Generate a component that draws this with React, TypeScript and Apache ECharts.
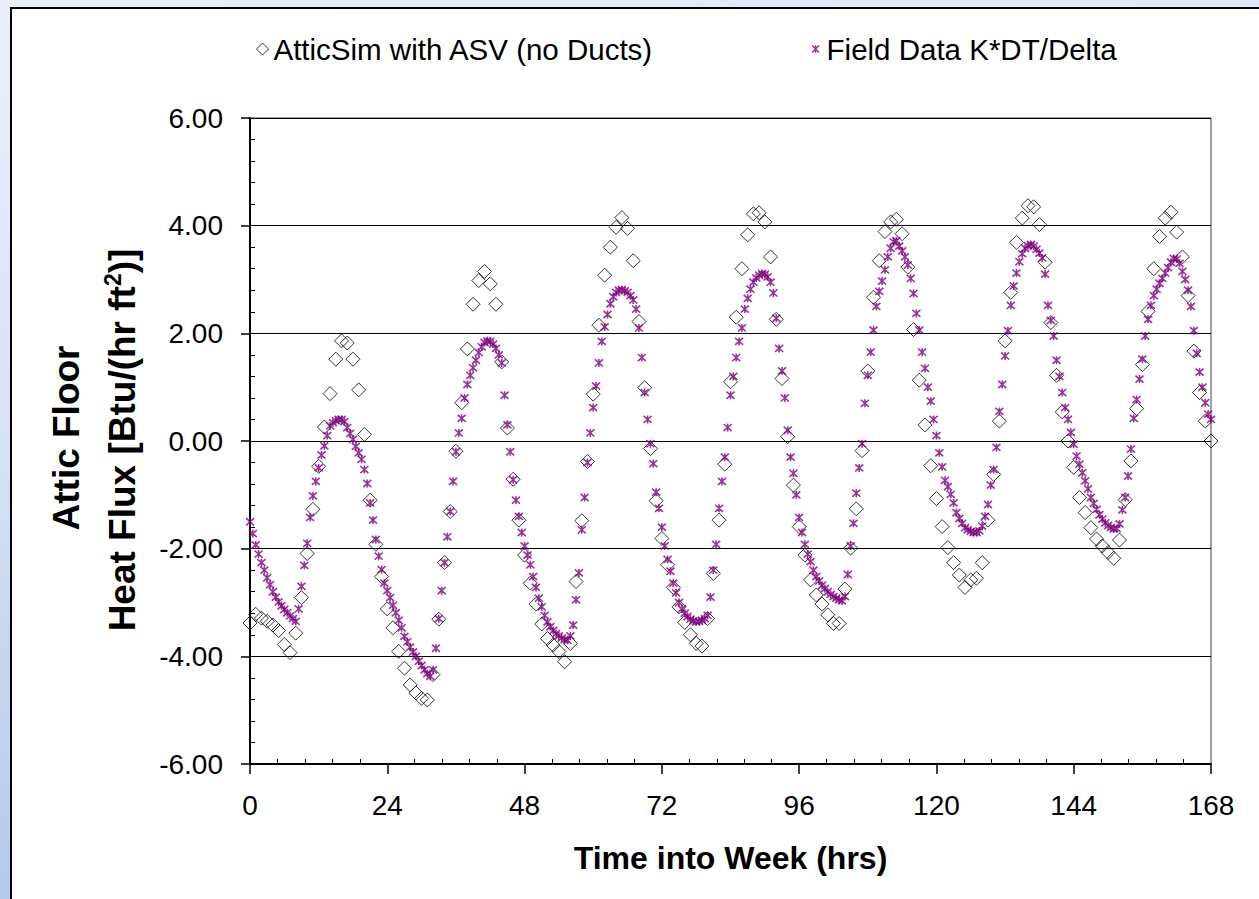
import React, { useEffect, useRef } from 'react';
import * as echarts from 'echarts';

const FONT = '"Liberation Sans", Arial, Helvetica, sans-serif';

// Axis ranges / tick labels
const hourMin = 0;
const hourMax = 168;
const hourInterval = 24;
const fluxMin = -6;
const fluxMax = 6;
const fluxInterval = 2;

// Sampling steps of the two data sets (hours)
const SIM_STEP_HRS = 1;
const FIELD_STEP_HRS = 0.5;

const SIM_NAME = 'AtticSim with ASV (no Ducts)';
const FIELD_NAME = 'Field Data K*DT/Delta';

// AtticSim hourly heat flux, t = 0 .. 168 h
const atticSimFlux = [
  -3.38, -3.22, -3.29, -3.35, -3.42, -3.52, -3.78, -3.93, -3.57, -2.91, -2.09, -1.27,
  -0.47, 0.26, 0.88, 1.52, 1.86, 1.82, 1.52, 0.95, 0.12, -1.10, -1.92, -2.52,
  -3.12, -3.47, -3.91, -4.22, -4.53, -4.68, -4.78, -4.81, -4.34, -3.31, -2.26, -1.31,
  -0.19, 0.71, 1.71, 2.54, 2.98, 3.15, 2.92, 2.54, 1.47, 0.24, -0.71, -1.47,
  -2.12, -2.64, -3.03, -3.40, -3.67, -3.79, -3.91, -4.10, -3.76, -2.61, -1.48, -0.38,
  0.87, 2.15, 3.08, 3.60, 3.97, 4.15, 3.95, 3.35, 2.22, 0.99, -0.14, -1.11,
  -1.81, -2.30, -2.72, -3.08, -3.37, -3.60, -3.76, -3.81, -3.30, -2.46, -1.47, -0.43,
  1.10, 2.30, 3.20, 3.83, 4.22, 4.24, 4.07, 3.42, 2.26, 1.16, 0.08, -0.82,
  -1.59, -2.12, -2.58, -2.86, -3.03, -3.23, -3.39, -3.39, -2.75, -1.99, -1.26, -0.18,
  1.30, 2.67, 3.35, 3.89, 4.07, 4.12, 3.85, 3.23, 2.07, 1.13, 0.30, -0.46,
  -1.07, -1.59, -1.98, -2.26, -2.49, -2.72, -2.58, -2.55, -2.26, -1.47, -0.62, 0.37,
  1.86, 2.76, 3.69, 4.14, 4.37, 4.35, 4.02, 3.32, 2.20, 1.22, 0.54, 0.00,
  -0.49, -1.05, -1.33, -1.61, -1.82, -1.95, -2.07, -2.18, -1.84, -1.09, -0.37, 0.60,
  1.42, 2.41, 3.20, 3.80, 4.14, 4.25, 3.88, 3.42, 2.70, 1.67, 0.90, 0.37,
  0.00,
];

// Field data K*DT/Delta, half-hourly, t = 0 .. 168 h
const fieldFlux = [
  -1.50, -1.72, -1.93, -2.10, -2.26, -2.40, -2.54, -2.67, -2.80, -2.90, -2.99, -3.06,
  -3.13, -3.19, -3.25, -3.30, -3.35, -3.12, -2.70, -2.31, -1.90, -1.42, -1.02, -0.75,
  -0.50, -0.26, -0.09, 0.10, 0.28, 0.34, 0.38, 0.40, 0.40, 0.36, 0.25, 0.14,
  0.03, -0.10, -0.22, -0.34, -0.53, -0.79, -1.15, -1.47, -1.83, -2.14, -2.39, -2.64,
  -2.78, -2.91, -3.05, -3.19, -3.33, -3.47, -3.63, -3.73, -3.83, -3.92, -4.00, -4.09,
  -4.17, -4.25, -4.32, -4.37, -4.25, -3.85, -3.30, -2.78, -2.26, -1.78, -1.31, -0.75,
  -0.20, 0.15, 0.42, 0.80, 1.05, 1.22, 1.36, 1.50, 1.64, 1.75, 1.83, 1.86,
  1.85, 1.80, 1.72, 1.60, 1.45, 0.85, 0.30, -0.20, -0.72, -1.10, -1.40, -1.70,
  -1.95, -2.12, -2.30, -2.52, -2.72, -2.92, -3.08, -3.24, -3.36, -3.45, -3.52, -3.58,
  -3.62, -3.66, -3.69, -3.70, -3.62, -3.42, -2.95, -2.45, -1.65, -1.05, -0.40, 0.15,
  0.62, 1.02, 1.45, 1.85, 2.12, 2.35, 2.55, 2.68, 2.76, 2.80, 2.81, 2.79,
  2.76, 2.70, 2.62, 2.45, 2.10, 1.55, 0.90, 0.40, -0.05, -0.42, -0.95, -1.25,
  -1.60, -1.95, -2.20, -2.42, -2.64, -2.82, -3.00, -3.12, -3.20, -3.26, -3.31, -3.34,
  -3.36, -3.35, -3.33, -3.30, -3.24, -2.90, -2.40, -1.92, -1.25, -0.75, -0.30, 0.25,
  0.85, 1.20, 1.55, 1.85, 2.10, 2.45, 2.65, 2.82, 2.95, 3.03, 3.08, 3.11,
  3.10, 3.05, 2.95, 2.75, 2.28, 1.72, 1.30, 0.80, 0.20, -0.30, -0.60, -1.00,
  -1.42, -1.70, -1.92, -2.10, -2.24, -2.40, -2.52, -2.60, -2.68, -2.74, -2.80, -2.85,
  -2.89, -2.92, -2.95, -2.97, -2.89, -2.48, -1.95, -1.53, -0.97, -0.50, -0.05, 0.70,
  1.22, 1.65, 2.06, 2.50, 2.78, 2.97, 3.18, 3.42, 3.58, 3.70, 3.72, 3.62,
  3.53, 3.42, 3.27, 3.02, 2.74, 2.37, 2.06, 1.65, 1.35, 1.00, 0.74, 0.40,
  0.10, -0.22, -0.48, -0.73, -0.85, -0.99, -1.15, -1.33, -1.44, -1.53, -1.61, -1.65,
  -1.68, -1.70, -1.70, -1.67, -1.58, -1.40, -1.18, -0.82, -0.53, -0.12, 0.55, 1.05,
  1.58, 2.05, 2.52, 2.88, 3.12, 3.33, 3.48, 3.58, 3.63, 3.65, 3.62, 3.56,
  3.49, 3.40, 3.10, 2.52, 2.24, 1.95, 1.50, 1.20, 0.90, 0.62, 0.40, 0.16,
  -0.06, -0.28, -0.43, -0.59, -0.74, -0.89, -1.05, -1.16, -1.27, -1.37, -1.45, -1.52,
  -1.57, -1.61, -1.63, -1.63, -1.54, -1.28, -1.05, -0.65, -0.15, 0.42, 0.77, 1.15,
  1.52, 1.95, 2.26, 2.52, 2.70, 2.82, 2.93, 3.02, 3.12, 3.22, 3.32, 3.39,
  3.38, 3.30, 3.15, 3.00, 2.80, 2.50, 2.05, 1.63, 1.28, 1.00, 0.71, 0.50,
  0.40,
];

const ASTERISK = 'path://M0,0L8,8M8,0L0,8M4,-0.5L4,8.5';
const ASTERISK_ICON = 'path://M-3,-3M11,11M0,0L8,8M8,0L0,8M4,-0.5L4,8.5';

function buildOption() {
  const simData = atticSimFlux.map((v, i) => [i * SIM_STEP_HRS, v]);
  const fieldData = fieldFlux.map((v, i) => [i * FIELD_STEP_HRS, v]);

  const bgGradient = {
    type: 'linear',
    x: 0, y: 0, x2: 0.3, y2: 1,
    colorStops: [
      { offset: 0, color: '#eaf0f9' },
      { offset: 0.5, color: '#d3e0f4' },
      { offset: 1, color: '#adc5ec' },
    ],
  };

  return {
    animation: false,
    backgroundColor: 'transparent',
    textStyle: { fontFamily: FONT },
    graphic: {
      elements: [
        { type: 'rect', z: -11, shape: { x: 0, y: 0, width: 1259, height: 899 }, style: { fill: bgGradient } },
        { type: 'rect', z: -10, shape: { x: 11, y: 8, width: 1300, height: 1000 }, style: { fill: '#ffffff', stroke: '#000000', lineWidth: 2 } },
        {
          type: 'text', z: 10, x: 66, y: 438, rotation: Math.PI / 2,
          style: {
            text: 'Attic Floor', fill: '#000', align: 'center', verticalAlign: 'middle',
            fontSize: 37, fontWeight: 'bold', fontFamily: FONT,
          },
        },
        {
          type: 'text', z: 10, x: 121, y: 440, rotation: Math.PI / 2,
          style: {
            text: '{a|Heat Flux [Btu/(hr ft}{s|2}{a|)]}',
            fill: '#000', align: 'center', verticalAlign: 'middle',
            rich: {
              a: { fontSize: 37, fontWeight: 'bold', fontFamily: FONT, fill: '#000', lineHeight: 40, verticalAlign: 'bottom' },
              s: { fontSize: 23, fontWeight: 'bold', fontFamily: FONT, fill: '#000', lineHeight: 23, verticalAlign: 'top' },
            },
          },
        },
      ],
    },
    legend: {
      left: 251,
      top: 29,
      itemGap: 155,
      itemWidth: 12,
      itemHeight: 12,
      selectedMode: false,
      textStyle: { fontSize: 29.5, color: '#000', fontFamily: FONT },
      itemStyle: { borderWidth: 1 },
      data: [
        { name: SIM_NAME, icon: 'diamond', itemStyle: { color: 'rgba(0,0,0,0)', borderColor: '#000', borderWidth: 1 } },
        { name: FIELD_NAME, icon: ASTERISK_ICON, itemStyle: { color: '#800080', borderColor: '#800080', borderWidth: 1.5 } },
      ],
    },
    grid: {
      left: 250, right: 48, top: 118, bottom: 135,
      show: true, borderColor: '#404040', borderWidth: 1, backgroundColor: 'transparent',
    },
    xAxis: [
      {
        type: 'value', min: hourMin, max: hourMax, interval: hourInterval, position: 'bottom',
        axisLine: { onZero: false, lineStyle: { color: '#000', width: 2 } },
        axisTick: { show: true, length: 10, lineStyle: { color: '#000', width: 1.5 } },
        axisLabel: { fontSize: 28, color: '#000', margin: 27, fontFamily: FONT },
        splitLine: { show: false },
        name: 'Time into Week (hrs)', nameLocation: 'middle', nameGap: 78,
        nameTextStyle: { fontSize: 32, fontWeight: 'bold', color: '#000', fontFamily: FONT },
      },
      {
        type: 'value', min: hourMin, max: hourMax, interval: hourInterval, position: 'bottom',
        axisLine: { show: false, onZero: false },
        axisTick: { show: false, inside: true },
        axisLabel: { show: false },
        splitLine: { show: false },
        minorTick: { show: true, splitNumber: 5, length: 5, lineStyle: { color: '#000', width: 1 } },
      },
    ],
    yAxis: [
      {
        type: 'value', min: fluxMin, max: fluxMax, interval: fluxInterval, position: 'left',
        axisLine: { onZero: false, lineStyle: { color: '#000', width: 2 } },
        axisTick: { show: true, length: 9, lineStyle: { color: '#000', width: 1.5 } },
        axisLabel: { fontSize: 28, color: '#000', margin: 27, fontFamily: FONT, formatter: (v: number) => v.toFixed(2) },
        splitLine: { show: true, lineStyle: { color: '#000', width: 1.2 } },
      },
      {
        type: 'value', min: fluxMin, max: fluxMax, interval: fluxInterval, position: 'left',
        axisLine: { show: false, onZero: false },
        axisTick: { show: false, inside: true },
        axisLabel: { show: false },
        splitLine: { show: false },
        minorTick: { show: true, splitNumber: 5, length: 5, lineStyle: { color: '#000', width: 1 } },
      },
    ],
    series: [
      {
        type: 'scatter', name: SIM_NAME, data: simData, xAxisIndex: 0, yAxisIndex: 0,
        symbol: 'diamond', symbolSize: 14, z: 2,
        itemStyle: { color: 'rgba(0,0,0,0)', borderColor: '#000', borderWidth: 1 },
      },
      {
        type: 'scatter', name: FIELD_NAME, data: fieldData, xAxisIndex: 0, yAxisIndex: 0,
        symbol: ASTERISK, symbolSize: 8, z: 3,
        itemStyle: { color: '#800080', borderColor: '#800080', borderWidth: 1.6 },
      },
    ],
  };
}

export default function App() {
  const ref = useRef<HTMLDivElement>(null);
  useEffect(() => {
    if (!ref.current) return;
    const chart = echarts.init(ref.current, undefined, { renderer: 'svg', width: 1259, height: 899 });
    chart.setOption(buildOption() as any);
    return () => chart.dispose();
  }, []);
  return (
    <div
      ref={ref}
      style={{ position: 'fixed', left: 0, top: 0, width: 1259, height: 899, background: '#fff' }}
    />
  );
}
